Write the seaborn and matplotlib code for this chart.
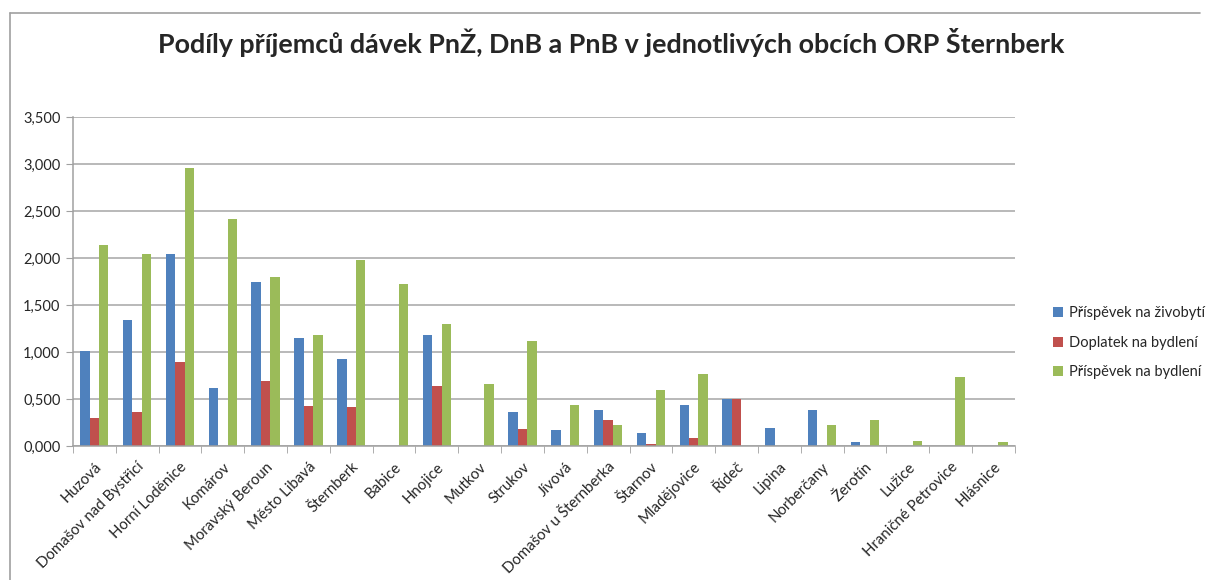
import matplotlib
matplotlib.use("Agg")
import matplotlib.pyplot as plt
import matplotlib.ticker as mticker
from matplotlib.lines import Line2D
import numpy as np
import pandas as pd
import seaborn as sns

obce = ["Huzová", "Domašov nad Bystřicí", "Horní Loděnice", "Komárov",
        "Moravský Beroun", "Město Libavá", "Šternberk", "Babice", "Hnojice",
        "Mutkov", "Strukov", "Jívová", "Domašov u Šternberka", "Štarnov",
        "Mladějovice", "Řídeč", "Lipina", "Norberčany", "Žerotín", "Lužice",
        "Hraničné Petrovice", "Hlásnice"]

pnz = [1.01, 1.34, 2.04, 0.62, 1.745, 1.145, 0.925, 0.0, 1.184, 0.0, 0.358,
       0.174, 0.38, 0.135, 0.433, 0.5, 0.195, 0.38, 0.039, 0.0, 0.0, 0.0]
dnb = [0.30, 0.36, 0.89, 0.0, 0.695, 0.425, 0.415, 0.0, 0.635, 0.0, 0.184,
       0.0, 0.277, 0.018, 0.089, 0.5, 0.0, 0.0, 0.0, 0.0, 0.0, 0.0]
pnb = [2.14, 2.04, 2.96, 2.42, 1.80, 1.184, 1.975, 1.72, 1.30, 0.663, 1.12,
       0.433, 0.227, 0.60, 0.766, 0.0, 0.0, 0.227, 0.277, 0.05, 0.738, 0.039]

series = ["Příspěvek na živobytí", "Doplatek na bydlení", "Příspěvek na bydlení"]
barvy = ["#4F81BD", "#C0504D", "#9BBB59"]

df = pd.DataFrame({"obec": obce * 3,
                   "davka": [series[0]] * len(obce) + [series[1]] * len(obce) + [series[2]] * len(obce),
                   "podil": pnz + dnb + pnb})

sns.set_style("white")
plt.rcParams['font.family'] = ['Lato', 'DejaVu Sans']

fig = plt.figure(figsize=(12.06, 5.80), dpi=100)
ax = fig.add_axes([0.0605, 0.231, 0.781, 0.567])

sns.barplot(data=df, x="obec", y="podil", hue="davka", palette=barvy,
            saturation=1, width=0.66, gap=0, ax=ax, edgecolor="none", legend=True)

ax.set_ylim(0, 3.5)
ax.set_xlim(-0.5, len(obce) - 0.5)
ax.yaxis.set_major_locator(mticker.MultipleLocator(0.5))
ax.yaxis.set_major_formatter(mticker.FuncFormatter(lambda v, p: f"{v:.3f}".replace(".", ",")))
ax.yaxis.grid(True, color="#a6a6a6", linewidth=1.1)
ax.set_axisbelow(True)
ax.set_xlabel("")
ax.set_ylabel("")

for s in ["top", "right"]:
    ax.spines[s].set_visible(False)
for s in ["left", "bottom"]:
    ax.spines[s].set_color("#a0a0a0")
    ax.spines[s].set_linewidth(1.1)

ax.tick_params(axis="y", which="major", length=5, color="#a0a0a0", labelsize=10.5, pad=4, left=True)
ax.set_xticks(range(len(obce)))
ax.set_xticklabels(obce, rotation=45, ha="right", rotation_mode="anchor", fontsize=10.8)
ax.tick_params(axis="x", which="major", length=0, pad=10)
ax.set_xticks(np.arange(-0.5, len(obce), 1.0), minor=True)
ax.tick_params(axis="x", which="minor", length=5, color="#a0a0a0", bottom=True)

fig.suptitle("Podíly příjemců dávek PnŽ, DnB a PnB v jednotlivých obcích ORP Šternberk",
             x=0.507, y=0.952, fontsize=19.4, fontweight="bold")

h, l = ax.get_legend_handles_labels()
ax.legend_.remove()
fig.legend(h, l, loc="center left", bbox_to_anchor=(0.862, 0.409), frameon=False,
           fontsize=10.5, handlelength=0.7, handleheight=0.7, handletextpad=0.4,
           labelspacing=1.05)

fig.add_artist(Line2D([0.008, 0.995], [0.978, 0.978], color="#a0a0a0", linewidth=1.2))
fig.add_artist(Line2D([0.008, 0.008], [0.0, 0.978], color="#a0a0a0", linewidth=1.2))

fig.savefig("out.png", dpi=100)
